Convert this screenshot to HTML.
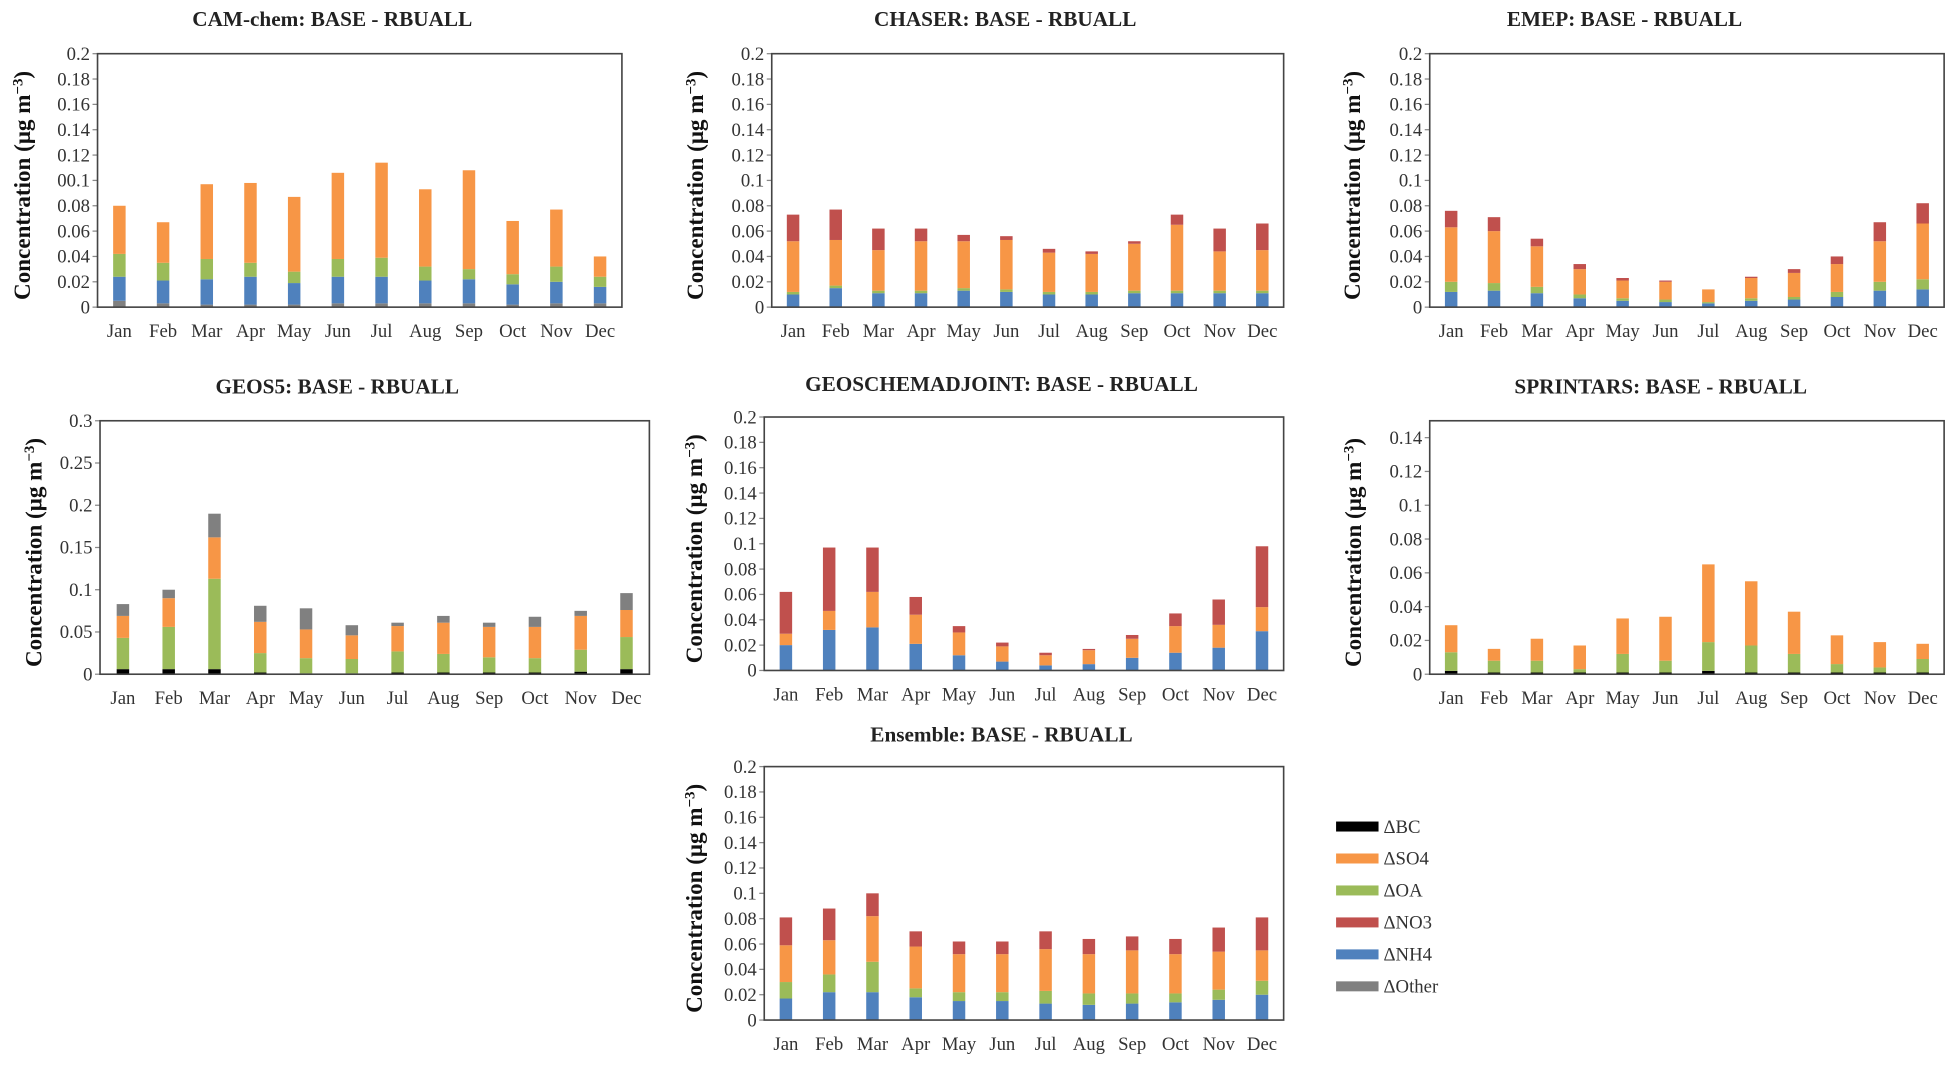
<!DOCTYPE html>
<html><head><meta charset="utf-8">
<style>
html,body{margin:0;padding:0;background:#fff;}
svg{display:block;font-family:"Liberation Serif",serif;}
</style></head>
<body>
<svg id="fig" width="1958" height="1070" viewBox="0 0 1568 857" xmlns="http://www.w3.org/2000/svg"></svg>
<script>
const months = ["Jan","Feb","Mar","Apr","May","Jun","Jul","Aug","Sep","Oct","Nov","Dec"];
// cumulative stack tops per species, bottom to top
const camOther = [.005,.003,.002,.002,.002,.003,.003,.003,.003,.002,.003,.003];
const camNH4 = [.024,.021,.022,.024,.019,.024,.024,.021,.022,.018,.020,.016];
const camOA = [.042,.035,.038,.035,.028,.038,.039,.032,.030,.026,.032,.024];
const camSO4 = [.080,.067,.097,.098,.087,.106,.114,.093,.108,.068,.077,.040];

const chaNH4 = [.010,.015,.011,.011,.013,.012,.010,.010,.011,.011,.011,.011];
const chaOA = [.012,.017,.013,.013,.015,.014,.012,.012,.013,.013,.013,.013];
const chaSO4 = [.052,.053,.045,.052,.052,.053,.043,.042,.050,.065,.044,.045];
const chaNO3 = [.073,.077,.062,.062,.057,.056,.046,.044,.052,.073,.062,.066];

const emeNH4 = [.012,.013,.011,.007,.005,.004,.003,.005,.006,.008,.013,.014];
const emeOA = [.020,.019,.016,.010,.007,.006,.004,.007,.008,.012,.020,.022];
const emeSO4 = [.063,.060,.048,.030,.021,.020,.014,.023,.027,.034,.052,.066];
const emeNO3 = [.076,.071,.054,.034,.023,.021,.014,.024,.030,.040,.067,.082];

const geoBC = [.006,.006,.006,.002,.001,.001,.002,.002,.002,.002,.003,.006];
const geoOA = [.043,.056,.113,.025,.019,.018,.027,.024,.020,.019,.029,.044];
const geoSO4 = [.069,.090,.162,.062,.053,.046,.057,.061,.056,.056,.069,.076];
const geoOther = [.083,.100,.190,.081,.078,.058,.061,.069,.061,.068,.075,.096];

const adjNH4 = [.020,.032,.034,.021,.012,.007,.004,.005,.010,.014,.018,.031];
const adjSO4 = [.029,.047,.062,.044,.030,.019,.012,.016,.025,.035,.036,.050];
const adjNO3 = [.062,.097,.097,.058,.035,.022,.014,.017,.028,.045,.056,.098];

const spBC = [.002,.001,.001,.001,.001,.001,.002,.001,.001,.001,.001,.001];
const spOA = [.013,.008,.008,.003,.012,.008,.019,.017,.012,.006,.004,.009];
const spSO4 = [.029,.015,.021,.017,.033,.034,.065,.055,.037,.023,.019,.018];

const ensNH4 = [.017,.022,.022,.018,.015,.015,.013,.012,.013,.014,.016,.020];
const ensOA = [.030,.036,.046,.025,.022,.022,.023,.021,.021,.021,.024,.031];
const ensSO4 = [.059,.063,.082,.058,.052,.052,.056,.052,.055,.052,.054,.055];
const ensNO3 = [.081,.088,.100,.070,.062,.062,.070,.064,.066,.064,.073,.081];

const ticks02 = ["0","0.02","0.04","0.06","0.08","0.1","0.12","0.14","0.16","0.18","0.2"];
const ticksCam = ["0","0.02","0.04","0.06","0.08","00.1","0.12","0.14","0.16","0.18","0.2"];
const ticks03 = ["0","0.05","0.1","0.15","0.2","0.25","0.3"];
const ticks014 = ["0","0.02","0.04","0.06","0.08","0.1","0.12","0.14"];

const C = {BC:"#000000",SO4:"#f79646",OA:"#9bbb59",NO3:"#c0504d",NH4:"#4f81bd",Other:"#808080"};
const NS="http://www.w3.org/2000/svg";
const svg=document.getElementById('fig');
function mk(tag,attrs,parent){const e=document.createElementNS(NS,tag);for(const k in attrs)e.setAttribute(k,attrs[k]);(parent||svg).appendChild(e);return e;}

function chart(o){
  const g=mk('g',{});
  
  
  const {x0,x1,y0,y1,max}=o;
  const ys=v=>y1-(v/max)*(y1-y0);
  const band=(x1-x0)/12;
  const xc=i=>x0+band*(i+0.5);
  const t=mk('text',{x:o.tx,y:o.ty,'text-anchor':'middle','font-size':17,'font-weight':'bold',fill:'#222'},g);
  t.textContent=o.title;
  
  
  o.ticks.forEach((lab,k)=>{
    const v=parseFloat(lab==="00.1"?"0.1":lab);
    const y=ys(v);
    const tl=mk('text',{x:x0-6,y:y+5,'text-anchor':'end','font-size':15,fill:'#333'},g);
    tl.textContent=lab;
    
    
    mk('line',{x1:x0-4,x2:x0,y1:y,y2:y,stroke:'#888','stroke-width':1},g);
  });
  months.forEach((m,i)=>{
    let prev=0;
    o.series.forEach(s=>{
      const v=s.data[i];
      if(v>prev){
        const r=mk('rect',{x:xc(i)-5,y:ys(v),width:10,height:ys(prev)-ys(v),fill:C[s.k]},g);
        
        
        prev=v;
      }
    });
    const ml=mk('text',{x:xc(i),y:y1+24,'text-anchor':'middle','font-size':15,fill:'#333'},g);
    ml.textContent=m;
    
    
  });
  mk('rect',{x:x0,y:y0,width:x1-x0,height:y1-y0,fill:'none',stroke:'#444','stroke-width':1.3},g);
  const at=mk('text',{transform:`translate(${o.ax},${(y0+y1)/2+4}) rotate(-90)`,'text-anchor':'middle','font-size':18.5,'font-weight':'bold',fill:'#111'},g);
  at.innerHTML='Concentration (μg m<tspan dy="-6" font-size="12">−3</tspan><tspan dy="6">)</tspan>';
  
  
}

chart({id:'cam-chem',title:'CAM-chem: BASE - RBUALL',tx:266,ty:21,x0:78,x1:498,y0:43,y1:246,max:0.2,ticks:ticksCam,ax:24,
  series:[{k:'Other',data:camOther},{k:'NH4',data:camNH4},{k:'OA',data:camOA},{k:'SO4',data:camSO4}]});
chart({id:'chaser',title:'CHASER: BASE - RBUALL',tx:805,ty:21,x0:618,x1:1028,y0:43,y1:246,max:0.2,ticks:ticks02,ax:563,
  series:[{k:'NH4',data:chaNH4},{k:'OA',data:chaOA},{k:'SO4',data:chaSO4},{k:'NO3',data:chaNO3}]});
chart({id:'emep',title:'EMEP: BASE - RBUALL',tx:1301,ty:21,x0:1145,x1:1557,y0:43,y1:246,max:0.2,ticks:ticks02,ax:1089,
  series:[{k:'NH4',data:emeNH4},{k:'OA',data:emeOA},{k:'SO4',data:emeSO4},{k:'NO3',data:emeNO3}]});
chart({id:'geos5',title:'GEOS5: BASE - RBUALL',tx:270,ty:315,x0:80,x1:520,y0:337,y1:540,max:0.3,ticks:ticks03,ax:33,
  series:[{k:'BC',data:geoBC},{k:'OA',data:geoOA},{k:'SO4',data:geoSO4},{k:'Other',data:geoOther}]});
chart({id:'geoschemadjoint',title:'GEOSCHEMADJOINT: BASE -  RBUALL',tx:802,ty:313,x0:612,x1:1028,y0:334,y1:537,max:0.2,ticks:ticks02,ax:562,
  series:[{k:'NH4',data:adjNH4},{k:'SO4',data:adjSO4},{k:'NO3',data:adjNO3}]});
chart({id:'sprintars',title:'SPRINTARS: BASE - RBUALL',tx:1330,ty:315,x0:1145,x1:1557,y0:337,y1:540,max:0.15,ticks:ticks014,ax:1090,
  series:[{k:'BC',data:spBC},{k:'OA',data:spOA},{k:'SO4',data:spSO4}]});
chart({id:'ensemble',title:'Ensemble: BASE -  RBUALL',tx:802,ty:594,x0:612,x1:1028,y0:614,y1:817,max:0.2,ticks:ticks02,ax:562,
  series:[{k:'NH4',data:ensNH4},{k:'OA',data:ensOA},{k:'SO4',data:ensSO4},{k:'NO3',data:ensNO3}]});

const legKeys=["BC","SO4","OA","NO3","NH4","Other"];
const lg=mk('g',{});


legKeys.forEach((k,i)=>{
  const y=662+i*25.6;
  const r=mk('rect',{x:1070,y:y-4,width:34,height:8,fill:C[k]},lg);
  
  
  const t=mk('text',{x:1108,y:y+5,'font-size':15,fill:'#333'},lg);
  t.textContent='Δ'+k;
  
  
});
</script>
</body></html>
